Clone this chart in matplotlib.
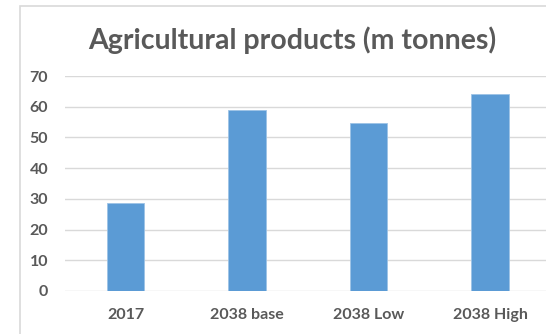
import matplotlib.pyplot as plt
from matplotlib.patches import Rectangle

# Chart data
categories = ["2017", "2038 base", "2038 Low", "2038 High"]
values = [28.6, 59.0, 54.6, 64.0]
y_ticks = [0, 10, 20, 30, 40, 50, 60, 70]

plt.rcParams['font.family'] = ['Lato', 'DejaVu Sans']

W, H = 546, 334
fig = plt.figure(figsize=(W / 100, H / 100), dpi=100)

# chart area border (cropped on the right and bottom)
fig.patches.append(Rectangle((20 / W, -0.1), 1.2, 1 - 6 / H + 0.1,
                             transform=fig.transFigure, fill=False,
                             edgecolor='#D9D9D9', linewidth=1.2))

ax = fig.add_axes([64.75 / W, 1 - 291 / H, 486 / W, (291 - 76) / H])
x = range(len(categories))
ax.bar(x, values, width=0.31, color='#5B9BD5', edgecolor='#9DC3E6',
       linewidth=0.6, zorder=3)

ax.set_xlim(-0.5, len(categories) - 0.5)
ax.set_ylim(0, 70)
ax.set_yticks(y_ticks)
ax.set_xticks(list(x))
ax.set_xticklabels(categories)
ax.yaxis.grid(True, color='#D9D9D9', linewidth=1)
ax.set_axisbelow(True)
for s in ax.spines.values():
    s.set_visible(False)
ax.tick_params(axis='both', length=0, labelsize=11.5, labelcolor='#595959')
ax.tick_params(axis='y', pad=12)
ax.tick_params(axis='x', pad=12)
for lab in ax.get_xticklabels() + ax.get_yticklabels():
    lab.set_fontweight('bold')

fig.text(292 / W, 1 - 40 / H, "Agricultural products (m tonnes)",
         ha='center', va='center', fontsize=20.5, fontweight='bold',
         color='#595959')

fig.savefig("out.png", dpi=100)
